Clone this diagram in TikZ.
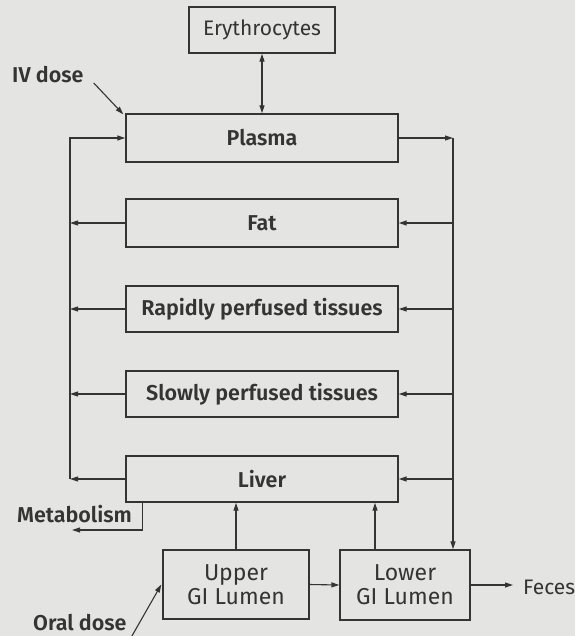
\documentclass[tikz,border=0pt]{standalone}
\usepackage{fontspec}
\setmainfont{Fira Sans}[BoldFont={* SemiBold}]
\usepackage{tikz}
\usetikzlibrary{arrows.meta,calc}
\definecolor{paper}{RGB}{228,228,226}
\definecolor{ink}{RGB}{52,52,52}
\tikzset{
  compartment/.style={
    draw = ink,
    line width = 1.4pt,
    shape = rectangle,
    inner sep = 0pt,
    text = ink,
    font = \fontsize{21.5}{23}\selectfont\bfseries,
    align = center
  },
  gut/.style={
    compartment,
    font = \fontsize{23}{24}\selectfont
  },
  flow/.style={
    draw = ink,
    line width = 1.1pt,
    -{Triangle[length=8pt,width=5pt]}
  },
  label/.style={
    text = ink,
    inner sep = 0pt,
    anchor = base west,
    font = \fontsize{21.5}{23}\selectfont\bfseries
  }
}

\begin{document}
\begin{tikzpicture}[x=1pt,y=-1pt]
        \fill[paper] (0,0) rectangle (575,636);
        \useasboundingbox (0,0) rectangle (575,636);
        % compartments
        \node[compartment, minimum width=146pt, minimum height=46pt, font=\fontsize{21}{22}\selectfont] (ery) at (262,30) {Erythrocytes};
        \node[compartment, minimum width=272pt, minimum height=48pt] (plasma) at (262,138) {Plasma};
        \node[compartment, minimum width=272pt, minimum height=48pt] (fat) at (262,223) {Fat};
        \node[compartment, minimum width=272pt, minimum height=46pt] (rapid) at (262,309) {Rapidly perfused tissues};
        \node[compartment, minimum width=272pt, minimum height=46pt] (slow) at (262,394) {Slowly perfused tissues};
        \node[compartment, minimum width=272pt, minimum height=46pt] (liver) at (262,479) {Liver};
        \node[gut, minimum width=146pt, minimum height=69pt] (upper) at (236,584.5) {Upper\\GI Lumen};
        \node[gut, minimum width=130pt, minimum height=70pt] (lower) at (405,585) {Lower\\GI Lumen};
        % texts
        \node[label] (iv) at (12,83) {IV dose};
        \node[label] (metab) at (17,522) {Metabolism};
        \node[label] (oral) at (33,630) {Oral dose};
        \node[label, font=\fontsize{21}{22}\selectfont] (feces) at (523,594) {Feces};
        \coordinate (lx) at (70,0);
        \coordinate (rx) at (453,0);
        \coordinate (metabend) at (72,530);
        % blood loop
        \draw[flow, {Triangle[length=8pt,width=5pt]}-{Triangle[length=8pt,width=5pt]}] (ery.south) -- (plasma.north);
        \draw[flow] (plasma.east) -- (plasma.east -| rx);
        \draw[flow] (plasma.east -| rx) -- (rx |- lower.north);
        \draw[flow] (liver.west -| lx) -- (plasma.west -| lx) -- (plasma.west);
        \foreach \organ in {fat,rapid,slow,liver}{
          \draw[flow] (\organ.east -| rx) -- (\organ.east);
          \draw[flow] (\organ.west) -- (\organ.west -| lx);
        }
        % gut
        \draw[flow] ([xshift=17pt]liver.south west) |- (metabend);
        \draw[flow] (upper.north) -- (upper.north |- liver.south);
        \draw[flow] ([xshift=-30pt]lower.north) -- ([xshift=-30pt]lower.north |- liver.south);
        \draw[flow] (upper.east) -- (lower.west);
        \draw[flow] (lower.east) -- ([xshift=-10pt]feces.west |- lower.east);
        % doses
        \draw[flow] ([xshift=10pt]iv.base east) -- ([shift={(-2pt,-1pt)}]plasma.north west);
        \draw[flow] ([shift={(0pt,-15pt)}]oral.base east) -- ([xshift=-1pt]upper.west);
    \end{tikzpicture}
\end{document}
